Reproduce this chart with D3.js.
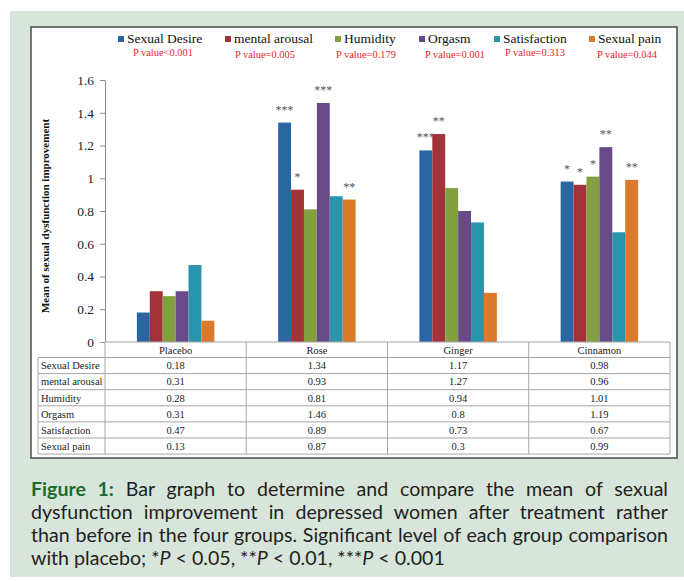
<!DOCTYPE html>
<html>
<head>
<meta charset="utf-8">
<script src="https://cdn.jsdelivr.net/npm/d3@7"></script>
<style>
  body { margin: 0; background: #fff; }
  svg { display: block; }
</style>
</head>
<body>
<div id="chart"></div>
<script>
// data
const groups = ["Placebo", "Rose", "Ginger", "Cinnamon"];
const series = ["Sexual Desire", "mental arousal", "Humidity", "Orgasm", "Satisfaction", "Sexual pain"];
const pValues = ["P value<0.001", "P value=0.005", "P value=0.179", "P value=0.001", "P value=0.313", "P value=0.044"];

const sexualDesire = [0.18, 1.34, 1.17, 0.98];
const mentalArousal = [0.31, 0.93, 1.27, 0.96];
const humidity = [0.28, 0.81, 0.94, 1.01];
const orgasm = [0.31, 1.46, 0.8, 1.19];
const satisfaction = [0.47, 0.89, 0.73, 0.67];
const sexualPain = [0.13, 0.87, 0.3, 0.99];

const sexualDesireStars = ["", "***", "***", "*"];
const mentalArousalStars = ["", "*", "**", "*"];
const humidityStars = ["", "", "", "*"];
const orgasmStars = ["", "***", "", "**"];
const satisfactionStars = ["", "", "", ""];
const sexualPainStars = ["", "**", "", "**"];

const yTicks = [0, 0.2, 0.4, 0.6, 0.8, 1, 1.2, 1.4, 1.6];
const yTitle = "Mean of sexual dysfunction improvement";

const captionLines = [
  "Bar graph to determine and compare the mean of sexual",
  "dysfunction improvement in depressed women after treatment rather",
  "than before in the four groups. Significant level of each group comparison",
  "with placebo; *P < 0.05, **P < 0.01, ***P < 0.001"
];

const values = [sexualDesire, mentalArousal, humidity, orgasm, satisfaction, sexualPain];
const stars = [sexualDesireStars, mentalArousalStars, humidityStars, orgasmStars, satisfactionStars, sexualPainStars];
const colors = ["#2a66a1", "#a3333a", "#82a040", "#694a88", "#2994ac", "#dc7a2c"];

// layout
const W = 684, H = 582;
const serif = "'Liberation Serif', 'Times New Roman', serif";
const legendX = [118, 225, 335, 419, 494, 589];
const pX = [133, 235, 336, 425, 505, 597];
const pY = [55.5, 57.5, 57.5, 57.5, 56, 58];

const svg = d3.select("#chart").append("svg").attr("width", W).attr("height", H);

svg.append("rect").attr("x", 10).attr("y", 11).attr("width", W - 10).attr("height", 566)
  .attr("fill", "#d8e5db");
svg.append("rect").attr("x", 31).attr("y", 27).attr("width", 646).attr("height", 431)
  .attr("fill", "#fff").attr("stroke", "#4a4a4a").attr("stroke-width", 1.5);

const x0 = d3.scaleBand().domain(groups).range([105, 670]);
const x1 = d3.scaleBand().domain(series).range([0, x0.bandwidth()]).paddingOuter(2.47);
const y = d3.scaleLinear().domain([0, 1.6]).range([342, 80]);

// y axis
const yAxis = svg.append("g").attr("transform", "translate(105,0)")
  .call(d3.axisLeft(y).tickValues(yTicks).tickSize(5).tickSizeOuter(0).tickPadding(6)
    .tickFormat(d3.format("~g")));
yAxis.select(".domain").attr("stroke", "#8c8c8c");
yAxis.selectAll(".tick line").attr("stroke", "#8c8c8c");
yAxis.selectAll(".tick text").attr("font-family", serif).attr("font-size", 13.5).attr("fill", "#222");

svg.append("text")
  .attr("transform", "translate(49,216) rotate(-90)")
  .attr("text-anchor", "middle")
  .attr("font-family", serif).attr("font-weight", "bold").attr("font-size", 11).attr("fill", "#111")
  .text(yTitle);

// bars
series.forEach((s, i) => {
  const g = svg.append("g");
  g.selectAll("rect").data(values[i]).join("rect")
    .attr("x", (d, j) => x0(groups[j]) + x1(s))
    .attr("y", d => y(d))
    .attr("width", x1.bandwidth())
    .attr("height", d => y(0) - y(d))
    .attr("fill", colors[i]);
  g.selectAll("text").data(stars[i]).join("text")
    .attr("x", (d, j) => x0(groups[j]) + x1(s) + x1.bandwidth() / 2)
    .attr("y", (d, j) => y(values[i][j]) - 9)
    .attr("text-anchor", "middle")
    .attr("font-family", serif).attr("font-size", 12).attr("fill", "#555")
    .text(d => d);
});

// legend
series.forEach((s, i) => {
  svg.append("rect").attr("x", legendX[i]).attr("y", 36).attr("width", 6).attr("height", 6)
    .attr("fill", colors[i]);
  svg.append("text").attr("x", legendX[i] + 9).attr("y", 43)
    .attr("font-family", serif).attr("font-size", 13.5).attr("fill", "#111")
    .text(s);
  svg.append("text").attr("x", pX[i]).attr("y", pY[i])
    .attr("font-family", serif).attr("font-size", 10.5).attr("fill", "#f0232d")
    .attr("textLength", 60).attr("lengthAdjust", "spacingAndGlyphs")
    .text(pValues[i]);
});

// data table
const rowTop = 342, headH = 15.5, rowH = 16.1;
const tableBottom = rowTop + headH + rowH * series.length;
const grid = svg.append("g").attr("stroke", "#a6a6a6").attr("stroke-width", 1).attr("fill", "none");
grid.append("line").attr("x1", 105).attr("x2", 670).attr("y1", rowTop).attr("y2", rowTop);
d3.range(series.length + 1).forEach(k => {
  const yy = rowTop + headH + rowH * k;
  grid.append("line").attr("x1", 38).attr("x2", 670).attr("y1", yy).attr("y2", yy);
});
grid.append("line").attr("x1", 38).attr("x2", 38).attr("y1", rowTop + headH).attr("y2", tableBottom);
groups.forEach(gname => {
  grid.append("line").attr("x1", x0(gname)).attr("x2", x0(gname)).attr("y1", rowTop).attr("y2", tableBottom);
});
grid.append("line").attr("x1", 670).attr("x2", 670).attr("y1", rowTop).attr("y2", tableBottom);

const tab = svg.append("g").attr("font-family", serif).attr("font-size", 10.5).attr("fill", "#222");
groups.forEach(gname => {
  tab.append("text").attr("x", x0(gname) + x0.bandwidth() / 2).attr("y", rowTop + 11.5)
    .attr("text-anchor", "middle").text(gname);
});
series.forEach((s, i) => {
  const yy = rowTop + headH + rowH * i + 11.8;
  tab.append("text").attr("x", 41).attr("y", yy).text(s);
  values[i].forEach((v, j) => {
    tab.append("text").attr("x", x0(groups[j]) + x0.bandwidth() / 2).attr("y", yy)
      .attr("text-anchor", "middle").text(String(v));
  });
});

// caption
const capFont = "Lato, 'Open Sans', sans-serif";
const capLeft = 31, capRight = 668;
captionLines.forEach((line, i) => {
  const t = svg.append("text").attr("x", capLeft).attr("y", 496 + i * 23)
    .attr("font-family", capFont).attr("font-size", 19.6).attr("fill", "#231f20");
  if (i === 0) {
    t.append("tspan").attr("font-weight", "bold").attr("fill", "#1d6b2c").text("Figure 1:");
    t.append("tspan").text(" " + line);
  } else if (i === 3) {
    line.split("P").forEach((part, k, arr) => {
      t.append("tspan").text(part);
      if (k < arr.length - 1) t.append("tspan").attr("font-style", "italic").text("P");
    });
  } else {
    t.text(line);
  }
  const w = t.node().getComputedTextLength();
  const target = i === 3 ? 414 : capRight - capLeft;
  const spaces = (t.text().match(/ /g) || []).length;
  if (w > target) {
    t.attr("textLength", target).attr("lengthAdjust", "spacingAndGlyphs");
  } else if (i < 3) {
    t.attr("word-spacing", (target - w) / spaces);
  }
});
</script>
</body>
</html>
